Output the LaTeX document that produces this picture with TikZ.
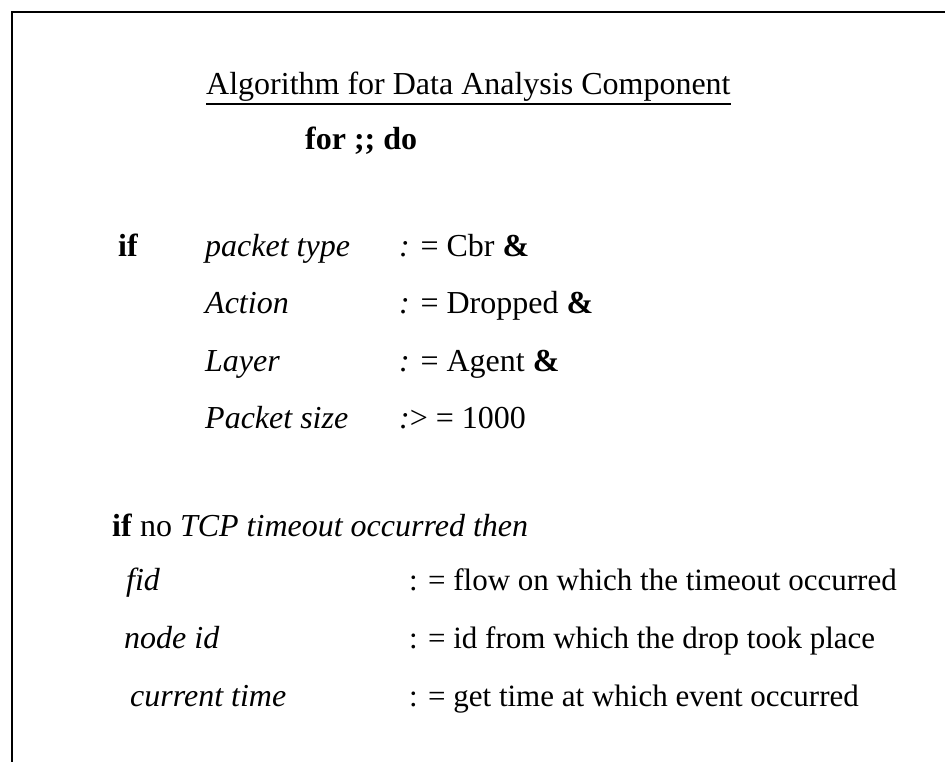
\documentclass[tikz,border=0pt]{standalone}
\usepackage{fontspec}
\setmainfont{Liberation Serif}
\begin{document}
\begin{tikzpicture}[x=1pt,y=-1pt,
  txt/.style={anchor=base west, inner sep=0pt, font=\fontsize{32}{38}\selectfont},
  val/.style={txt, font=\fontsize{31}{37}\selectfont},
  frame/.style={line width=2.5pt},
  rule/.style={line width=1.8pt}]
\useasboundingbox (0,0) rectangle (945,762);
% open frame: left and top edges
\draw[frame] (12,762) -- (12,12) -- (945,12);

% heading
\node[txt] (title) at (206,95) {Algorithm for Data Analysis Component};
\draw[rule] ([yshift=-1.5pt]title.south west) -- ([yshift=-1.5pt]title.south east);
\node[txt] (loop) at (305,150) {\textbf{for ;; do}};

% filter condition
\node[txt] (if1) at (118,256) {\textbf{if}};
\node[txt] (k1) at (205,256) {\textit{packet type}};
\node[txt] (v1) at (399,256) {\textit{:} = Cbr \textbf{\&}};
\node[txt] (k2) at (205,313) {\textit{Action}};
\node[txt] (v2) at (399,313) {\textit{:} = Dropped \textbf{\&}};
\node[txt] (k3) at (205,371) {\textit{Layer}};
\node[txt] (v3) at (399,371) {\textit{:} = Agent \textbf{\&}};
\node[txt] (k4) at (205,428) {\textit{Packet size}};
\node[txt] (v4) at (399,428) {\textit{:}> = 1000};

% timeout branch
\node[txt] (if2) at (112,536) {\textbf{if} no \textit{TCP timeout occurred then}};
\node[txt] (a1) at (126,590) {\textit{fid}};
\node[val] (b1) at (409,590) {: = flow on which the timeout occurred};
\node[txt] (a2) at (124,648) {\textit{node id}};
\node[val] (b2) at (409,648) {: = id from which the drop took place};
\node[txt] (a3) at (130,706) {\textit{current time}};
\node[val] (b3) at (409,706) {: = get time at which event occurred};
\end{tikzpicture}
\end{document}
